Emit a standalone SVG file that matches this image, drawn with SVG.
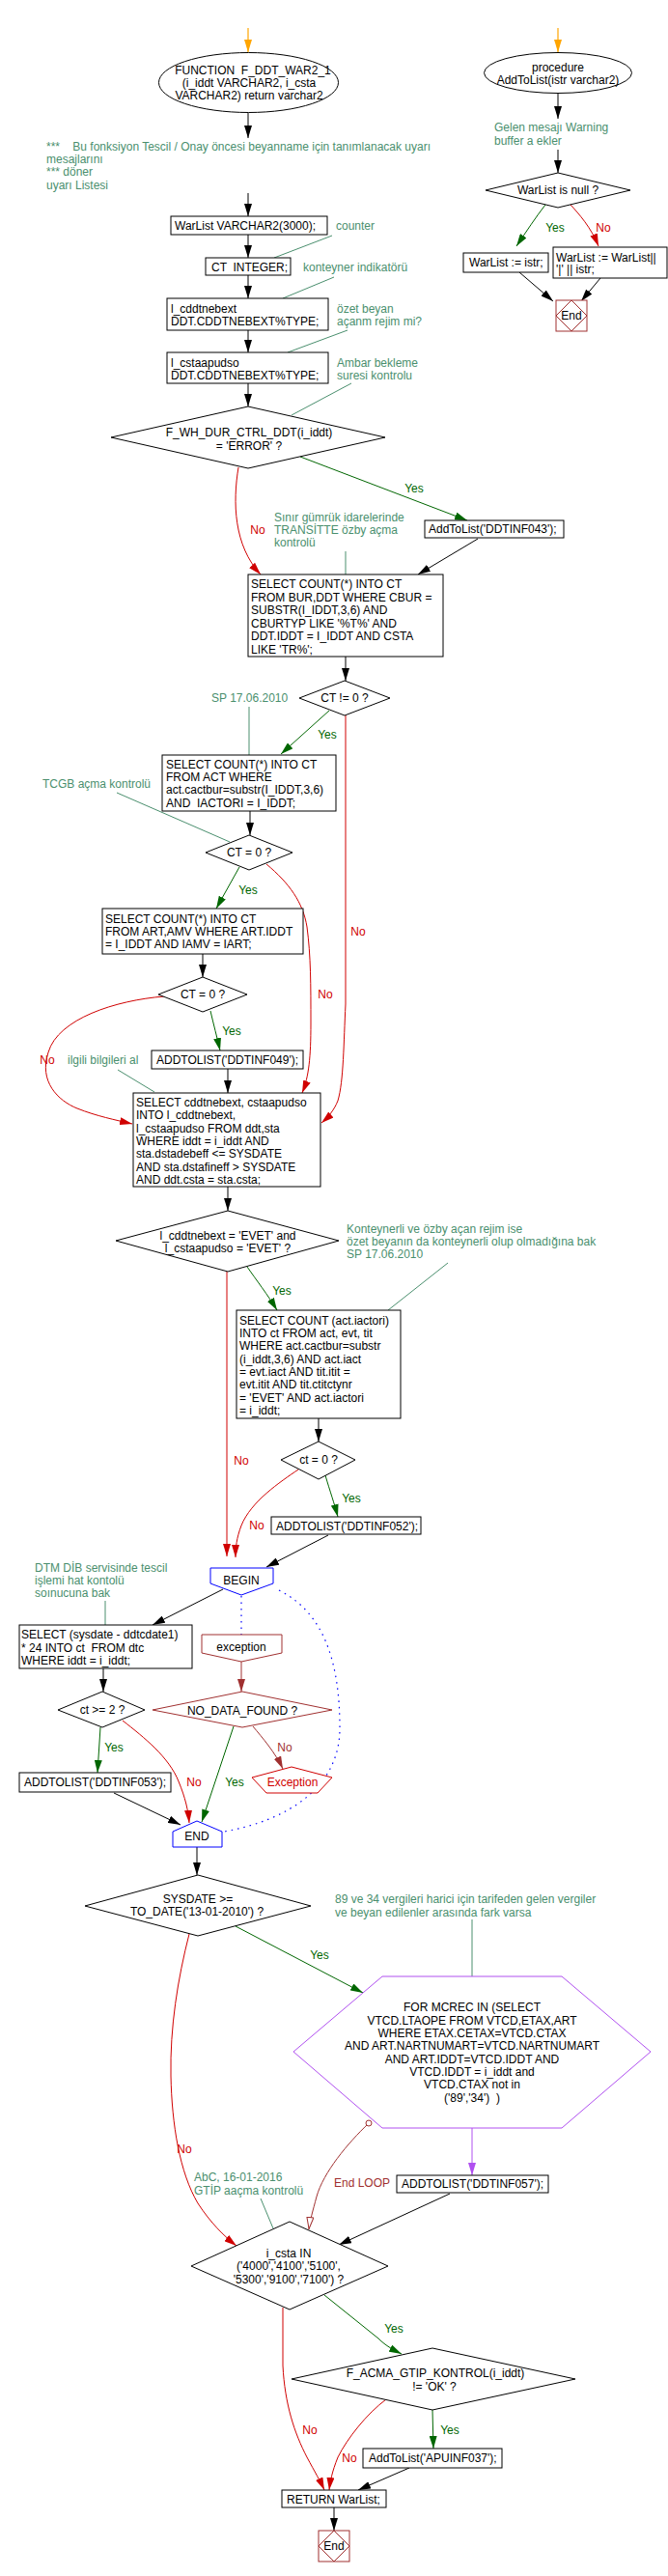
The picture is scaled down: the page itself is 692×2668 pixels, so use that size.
<svg xmlns="http://www.w3.org/2000/svg" width="692" height="2668" viewBox="0 0 692 2668">
<style>
text{font-family:"Liberation Sans",Arial,sans-serif;font-size:12px;fill:#000}
.c{fill:#4A8F6E}
.y{fill:#006600}
.n{fill:#D00000}
.dr{fill:#A03030}
.m{text-anchor:middle}
.pre{white-space:pre}
.box{fill:#fff;stroke:#000;stroke-width:1}
.dia{fill:#fff;stroke:#000;stroke-width:1}
.ln{fill:none;stroke:#000;stroke-width:1}
.lg{fill:none;stroke:#006600;stroke-width:1}
.lr{fill:none;stroke:#D00000;stroke-width:1}
.ldr{fill:none;stroke:#A03030;stroke-width:1}
.lc{fill:none;stroke:#4A8F6E;stroke-width:1}
.lb{fill:none;stroke:#0000FF;stroke-width:1.2;stroke-dasharray:1.5 5}
</style>
<defs>
<marker id="ak" viewBox="0 0 13 8" refX="13" refY="4" markerWidth="13" markerHeight="8" markerUnits="userSpaceOnUse" orient="auto"><path d="M0,0 L13,4 L0,8 z" fill="#000"/></marker>
<marker id="ag" viewBox="0 0 13 8" refX="13" refY="4" markerWidth="13" markerHeight="8" markerUnits="userSpaceOnUse" orient="auto"><path d="M0,0 L13,4 L0,8 z" fill="#006600"/></marker>
<marker id="ar" viewBox="0 0 13 8" refX="13" refY="4" markerWidth="13" markerHeight="8" markerUnits="userSpaceOnUse" orient="auto"><path d="M0,0 L13,4 L0,8 z" fill="#D00000"/></marker>
<marker id="adr" viewBox="0 0 13 8" refX="13" refY="4" markerWidth="13" markerHeight="8" markerUnits="userSpaceOnUse" orient="auto"><path d="M0,0 L13,4 L0,8 z" fill="#A03030"/></marker>
<marker id="ao" viewBox="0 0 13 8" refX="13" refY="4" markerWidth="13" markerHeight="8" markerUnits="userSpaceOnUse" orient="auto"><path d="M0,0 L13,4 L0,8 z" fill="#FFA500"/></marker>
<marker id="ap" viewBox="0 0 13 8" refX="13" refY="4" markerWidth="13" markerHeight="8" markerUnits="userSpaceOnUse" orient="auto"><path d="M0,0 L13,4 L0,8 z" fill="#B050F0"/></marker>
<marker id="aopen" viewBox="0 0 13 8" refX="13" refY="4" markerWidth="13" markerHeight="8" markerUnits="userSpaceOnUse" orient="auto"><path d="M0.5,0.5 L12.5,4 L0.5,7.5 z" fill="#fff" stroke="#A03030" stroke-width="1"/></marker>
<marker id="acirc" viewBox="0 0 8 8" refX="4" refY="4" markerWidth="8" markerHeight="8" markerUnits="userSpaceOnUse"><circle cx="4" cy="4" r="3" fill="#fff" stroke="#A03030" stroke-width="1"/></marker>
</defs>
<rect width="692" height="2668" fill="#fff"/>

<g id="connectors">
<line x1="257" y1="29" x2="257" y2="54" stroke="#FFA500" stroke-width="1.2" marker-end="url(#ao)"/>
<line x1="578" y1="29" x2="578" y2="54" stroke="#FFA500" stroke-width="1.2" marker-end="url(#ao)"/>
<path class="ln" d="M257,117 L257,143" marker-end="url(#ak)"/>
<path class="ln" d="M257,200 L257,224" marker-end="url(#ak)"/>
<path class="ln" d="M257,243 L257,267" marker-end="url(#ak)"/>
<path class="ln" d="M257,285 L257,309" marker-end="url(#ak)"/>
<path class="ln" d="M257,342 L257,365" marker-end="url(#ak)"/>
<path class="ln" d="M257,397 L257,421" marker-end="url(#ak)"/>
<path class="lc" d="M284,267 L344,244"/>
<path class="lc" d="M293,309 L346,287"/>
<path class="lc" d="M298,365 L360,342"/>
<path class="lc" d="M302,430 L364,397"/>
<path class="lg" d="M311,473 L484,539" marker-end="url(#ag)"/>
<path class="ln" d="M495,558 L433,595" marker-end="url(#ak)"/>
<path class="lr" d="M247,484 C241,520 242,565 270,595" marker-end="url(#ar)"/>
<path class="lc" d="M358,571 L358,595"/>
<path class="ln" d="M358,680 L358,705" marker-end="url(#ak)"/>
<path class="lc" d="M258,732 L258,782"/>
<path class="lg" d="M341,736 L291,781" marker-end="url(#ag)"/>
<path class="lr" d="M358,741 L358,1040 C356,1080 356,1120 350,1140 C346,1150 340,1157 333,1163" marker-end="url(#ar)"/>
<path class="lc" d="M121,821 L238,872"/>
<path class="ln" d="M259,840 L259,865" marker-end="url(#ak)"/>
<path class="lg" d="M248,898 L224,941" marker-end="url(#ag)"/>
<path class="lr" d="M276,895 C300,915 314,935 318,960 C322,990 322,1020 322,1060 C322,1095 320,1115 313,1132" marker-end="url(#ar)"/>
<path class="ln" d="M210,988 L210,1012" marker-end="url(#ak)"/>
<path class="lg" d="M218,1047 C221,1060 225,1075 228,1088" marker-end="url(#ag)"/>
<path class="lr" d="M170,1032 C120,1036 60,1055 50,1090 C40,1120 60,1140 80,1148 C100,1156 120,1160 137,1164" marker-end="url(#ar)"/>
<path class="lc" d="M122,1108 L160,1131"/>
<path class="ln" d="M236,1107 L236,1132" marker-end="url(#ak)"/>
<path class="ln" d="M236,1229 L236,1254" marker-end="url(#ak)"/>
<path class="lc" d="M464,1308 L402,1357"/>
<path class="lg" d="M256,1312 C265,1325 278,1342 287,1357" marker-end="url(#ag)"/>
<path class="lr" d="M235,1317 L235,1612" marker-end="url(#ar)"/>
<path class="ln" d="M330,1469 L330,1493" marker-end="url(#ak)"/>
<path class="lr" d="M309,1522 C290,1535 260,1555 250,1580 C245,1593 244,1603 244,1613" marker-end="url(#ar)"/>
<path class="lg" d="M337,1528 C342,1545 346,1556 350,1571" marker-end="url(#ag)"/>
<path class="ln" d="M340,1590 L276,1623" marker-end="url(#ak)"/>
<path class="lc" d="M109,1658 L109,1683"/>
<path class="ln" d="M231,1646 L158,1683" marker-end="url(#ak)"/>
<path class="ln" d="M107,1728 L107,1752" marker-end="url(#ak)"/>
<path class="lb" d="M250,1653 L250,1693"/>
<path class="ldr" d="M250,1721 L250,1752" marker-end="url(#adr)"/>
<path class="lb" d="M289,1647 C335,1670 352,1720 352,1790 C352,1850 300,1885 232,1897"/>
<path class="lg" d="M104,1789 L101,1836" marker-end="url(#ag)"/>
<path class="ln" d="M118,1857 L187,1890" marker-end="url(#ak)"/>
<path class="lr" d="M127,1782 C150,1800 175,1820 185,1845 C192,1862 195,1875 196,1888" marker-end="url(#ar)"/>
<path class="lg" d="M242,1788 L209,1887" marker-end="url(#ag)"/>
<path class="ldr" d="M262,1788 C272,1800 285,1815 293,1832" marker-end="url(#adr)"/>
<path class="ln" d="M204,1913 L204,1942" marker-end="url(#ak)"/>
<path class="lc" d="M489,1988 L489,2047"/>
<path class="lg" d="M244,1995 L376,2064" marker-end="url(#ag)"/>
<path class="lr" d="M196,2003 C184,2050 176,2100 177,2150 C178,2200 186,2250 205,2282 C218,2302 232,2316 245,2326" marker-end="url(#ar)"/>
<path d="M489,2204 L489,2253" fill="none" stroke="#B050F0" stroke-width="1" marker-end="url(#ap)"/>
<path class="ln" d="M466,2272 L351,2325" marker-end="url(#ak)"/>
<path class="ldr" d="M382,2199 C360,2220 335,2250 328,2275 C324,2290 321,2300 320,2309" marker-start="url(#acirc)" marker-end="url(#aopen)"/>
<path class="lc" d="M270,2277 L283,2308"/>
<path class="lg" d="M336,2377 L392,2422 C400,2430 408,2434 416,2438" marker-end="url(#ag)"/>
<path class="lg" d="M448,2496 L449,2536" marker-end="url(#ag)"/>
<path class="ln" d="M424,2556 L371,2579" marker-end="url(#ak)"/>
<path class="lr" d="M293,2390 L293,2450 C295,2490 305,2520 318,2545 C326,2560 332,2570 336,2579" marker-end="url(#ar)"/>
<path class="lr" d="M400,2485 C380,2500 360,2525 350,2545 C344,2560 342,2570 341,2579" marker-end="url(#ar)"/>
<path class="ln" d="M346,2597 L346,2621" marker-end="url(#ak)"/>
<path class="ln" d="M578,97 L578,123" marker-end="url(#ak)"/>
<path class="ln" d="M578,155 L578,179" marker-end="url(#ak)"/>
<path class="lg" d="M565,212 C555,225 545,240 535,255" marker-end="url(#ag)"/>
<path class="lr" d="M591,212 C600,222 612,235 620,255" marker-end="url(#ar)"/>
<path class="ln" d="M538,282 L573,312" marker-end="url(#ak)"/>
<path class="ln" d="M622,288 L602,312" marker-end="url(#ak)"/>
</g>

<g id="labels">
<text class="y m" x="429" y="510">Yes</text>
<text class="n m" x="267" y="553">No</text>
<text class="y m" x="339" y="765">Yes</text>
<text class="n m" x="371" y="969">No</text>
<text class="y m" x="257" y="926">Yes</text>
<text class="n m" x="337" y="1034">No</text>
<text class="y m" x="240" y="1072">Yes</text>
<text class="n m" x="49" y="1102">No</text>
<text class="y m" x="292" y="1341">Yes</text>
<text class="n m" x="250" y="1517">No</text>
<text class="n m" x="266" y="1584">No</text>
<text class="y m" x="364" y="1556">Yes</text>
<text class="y m" x="118" y="1814">Yes</text>
<text class="n m" x="201" y="1850">No</text>
<text class="y m" x="243" y="1850">Yes</text>
<text class="dr m" x="295" y="1814">No</text>
<text class="y m" x="331" y="2029">Yes</text>
<text class="n m" x="191" y="2230">No</text>
<text class="dr" x="346" y="2265">End LOOP</text>
<text class="y m" x="408" y="2416">Yes</text>
<text class="y m" x="466" y="2521">Yes</text>
<text class="n m" x="321" y="2521">No</text>
<text class="n m" x="362" y="2550">No</text>
<text class="y m" x="575" y="240">Yes</text>
<text class="n m" x="625" y="240">No</text>
</g>

<g id="n_func">
<ellipse cx="257.5" cy="85.5" rx="93" ry="31" fill="#fff" stroke="#000"/>
<text class="m pre" x="262" y="77">FUNCTION  F_DDT_WAR2_1</text>
<text class="m" x="258" y="90">(i_iddt VARCHAR2, i_csta</text>
<text class="m" x="258" y="103">VARCHAR2) return varchar2</text>
</g>
<g id="c_header">
<text class="c pre" x="48" y="156">***    Bu fonksiyon Tescil / Onay öncesi beyanname için tanımlanacak uyarı</text>
<text class="c" x="48" y="169">mesajlarını</text>
<text class="c" x="48" y="182">*** döner</text>
<text class="c" x="48" y="196">uyarı Listesi</text>
</g>
<g id="n_warlist_decl">
<rect class="box" x="177" y="224" width="162" height="19"/>
<text x="181" y="238">WarList VARCHAR2(3000);</text>
</g>
<g id="c_counter"><text class="c" x="348" y="238">counter</text></g>
<g id="n_ct">
<rect class="box" x="213" y="267" width="88" height="18"/>
<text class="pre" x="219" y="281">CT  INTEGER;</text>
</g>
<g id="c_konteyner"><text class="c" x="314" y="281">konteyner indikatörü</text></g>
<g id="n_cddt">
<rect class="box" x="173" y="309" width="167" height="33"/>
<text x="177" y="324">l_cddtnebext</text>
<text x="177" y="337">DDT.CDDTNEBEXT%TYPE;</text>
</g>
<g id="c_ozet">
<text class="c" x="349" y="324">özet beyan</text>
<text class="c" x="349" y="337">açanm rejim mi?</text>
</g>
<g id="n_csta">
<rect class="box" x="173" y="365" width="167" height="32"/>
<text x="177" y="380">l_cstaapudso</text>
<text x="177" y="393">DDT.CDDTNEBEXT%TYPE;</text>
</g>
<g id="c_ambar">
<text class="c" x="349" y="380">Ambar bekleme</text>
<text class="c" x="349" y="393">suresi kontrolu</text>
</g>
<g id="d_wh">
<polygon class="dia" points="257,421 399,453 257,485 115,453"/>
<text class="m" x="258" y="452">F_WH_DUR_CTRL_DDT(i_iddt)</text>
<text class="m" x="258" y="466">= 'ERROR' ?</text>
</g>
<g id="n_add043">
<rect class="box" x="440" y="539" width="144" height="18"/>
<text x="444" y="552">AddToList('DDTINF043');</text>
</g>
<g id="c_sinir">
<text class="c" x="284" y="540">Sınır gümrük idarelerinde</text>
<text class="c" x="284" y="553">TRANSİTTE özby açma</text>
<text class="c" x="284" y="566">kontrolü</text>
</g>
<g id="n_sel_bur">
<rect class="box" x="257" y="595" width="202" height="85"/>
<text x="260" y="609">SELECT COUNT(*) INTO CT</text>
<text x="260" y="622.5">FROM BUR,DDT WHERE CBUR =</text>
<text x="260" y="636">SUBSTR(I_IDDT,3,6) AND</text>
<text x="260" y="649.5">CBURTYP LIKE '%T%' AND</text>
<text x="260" y="663">DDT.IDDT = I_IDDT AND CSTA</text>
<text x="260" y="676.5">LIKE 'TR%';</text>
</g>
<g id="d_ct_ne">
<polygon class="dia" points="357,705 404,723 357,741 310,723"/>
<text class="m" x="357" y="727">CT != 0 ?</text>
</g>
<g id="c_sp1"><text class="c" x="219" y="727">SP 17.06.2010</text></g>
<g id="n_sel_act">
<rect class="box" x="168" y="782" width="180" height="58"/>
<text x="172" y="796">SELECT COUNT(*) INTO CT</text>
<text x="172" y="809">FROM ACT WHERE</text>
<text x="172" y="822">act.cactbur=substr(I_IDDT,3,6)</text>
<text class="pre" x="172" y="836">AND  IACTORI = I_IDDT;</text>
</g>
<g id="c_tcgb"><text class="c" x="44" y="816">TCGB açma kontrolü</text></g>
<g id="d_ct0a">
<polygon class="dia" points="258,865 303,883 258,901 213,883"/>
<text class="m" x="258" y="887">CT = 0 ?</text>
</g>
<g id="n_sel_art">
<rect class="box" x="106" y="941" width="208" height="47"/>
<text x="109" y="956">SELECT COUNT(*) INTO CT</text>
<text x="109" y="969">FROM ART,AMV WHERE ART.IDDT</text>
<text x="109" y="982">= I_IDDT AND IAMV = IART;</text>
</g>
<g id="d_ct0b">
<polygon class="dia" points="210,1012 256,1030 210,1048 164,1030"/>
<text class="m" x="210" y="1034">CT = 0 ?</text>
</g>
<g id="n_add049">
<rect class="box" x="157" y="1088" width="157" height="19"/>
<text x="162" y="1102">ADDTOLIST('DDTINF049');</text>
</g>
<g id="c_ilgili"><text class="c" x="70" y="1102">ilgili bilgileri al</text></g>
<g id="n_sel_ddt">
<rect class="box" x="138" y="1132" width="194" height="97"/>
<text x="141" y="1146">SELECT cddtnebext, cstaapudso</text>
<text x="141" y="1159.3">INTO l_cddtnebext,</text>
<text x="141" y="1172.6">l_cstaapudso FROM ddt,sta</text>
<text x="141" y="1185.9">WHERE iddt = i_iddt AND</text>
<text x="141" y="1199.2">sta.dstadebeff &lt;= SYSDATE</text>
<text x="141" y="1212.5">AND sta.dstafineff &gt; SYSDATE</text>
<text x="141" y="1225.8">AND ddt.csta = sta.csta;</text>
</g>
<g id="d_evet">
<polygon class="dia" points="236,1254 351,1285 236,1317 120,1285"/>
<text class="m" x="236" y="1284">l_cddtnebext = 'EVET' and</text>
<text class="m" x="236" y="1297">l_cstaapudso = 'EVET' ?</text>
</g>
<g id="c_konteynerli">
<text class="c" x="359" y="1277">Konteynerli ve özby açan rejim ise</text>
<text class="c" x="359" y="1290">özet beyanın da konteynerli olup olmadığına bak</text>
<text class="c" x="359" y="1303">SP 17.06.2010</text>
</g>
<g id="n_sel_evt">
<rect class="box" x="245" y="1357" width="170" height="112"/>
<text x="248" y="1372">SELECT COUNT (act.iactori)</text>
<text x="248" y="1385">INTO ct FROM act, evt, tit</text>
<text x="248" y="1398">WHERE act.cactbur=substr</text>
<text x="248" y="1412">(i_iddt,3,6) AND act.iact</text>
<text x="248" y="1425">= evt.iact AND tit.itit =</text>
<text x="248" y="1438">evt.itit AND tit.ctitctynr</text>
<text x="248" y="1452">= 'EVET' AND act.iactori</text>
<text x="248" y="1465">= i_iddt;</text>
</g>
<g id="d_ct0c">
<polygon class="dia" points="330,1493 368,1512 330,1532 291,1512"/>
<text class="m" x="330" y="1516">ct = 0 ?</text>
</g>
<g id="n_add052">
<rect class="box" x="281" y="1571" width="155" height="18"/>
<text x="286" y="1585">ADDTOLIST('DDTINF052');</text>
</g>
<g id="n_begin">
<polygon points="218,1624 283,1624 283,1640 250,1652 218,1640" fill="#fff" stroke="#0000FF" stroke-width="1"/>
<text class="m" x="250" y="1641">BEGIN</text>
</g>
<g id="c_dtm">
<text class="c" x="36" y="1628">DTM DİB servisinde tescil</text>
<text class="c" x="36" y="1641">işlemi hat kontolü</text>
<text class="c" x="36" y="1654">soınucuna bak</text>
</g>
<g id="n_sel_dtc">
<rect class="box" x="20" y="1683" width="179" height="45"/>
<text x="22" y="1697">SELECT (sysdate - ddtcdate1)</text>
<text class="pre" x="22" y="1711">* 24 INTO ct  FROM dtc</text>
<text x="22" y="1724">WHERE iddt = i_iddt;</text>
</g>
<g id="d_ct2">
<polygon class="dia" points="106,1752 150,1771 106,1789 60,1771"/>
<text class="m" x="106" y="1775">ct &gt;= 2 ?</text>
</g>
<g id="n_exception">
<polygon points="209,1693 292,1693 292,1712 250,1721 209,1712" fill="#fff" stroke="#A03030" stroke-width="1"/>
<text class="m" x="250" y="1710">exception</text>
</g>
<g id="d_ndf">
<polygon points="251,1752 344,1771 251,1789 158,1771" fill="#fff" stroke="#A03030" stroke-width="1"/>
<text class="m" x="251" y="1776">NO_DATA_FOUND ?</text>
</g>
<g id="n_add053">
<rect class="box" x="20" y="1836" width="157" height="20"/>
<text x="25" y="1850">ADDTOLIST('DDTINF053');</text>
</g>
<g id="n_exc_raise">
<polygon points="261,1841 302,1830 344,1841 329,1857 276,1857" fill="#fff" stroke="#D00000" stroke-width="1"/>
<text class="n m" x="303" y="1850">Exception</text>
</g>
<g id="n_end_blk">
<polygon points="179,1897 204,1886 230,1897 230,1913 179,1913" fill="#fff" stroke="#0000FF" stroke-width="1"/>
<text class="m" x="204" y="1906">END</text>
</g>
<g id="d_sysdate">
<polygon class="dia" points="205,1942 322,1974 205,2005 88,1974"/>
<text class="m" x="205" y="1971">SYSDATE &gt;=</text>
<text class="m" x="204" y="1984">TO_DATE('13-01-2010') ?</text>
</g>
<g id="c_89">
<text class="c" x="347" y="1971">89 ve 34 vergileri harici için tarifeden gelen vergiler</text>
<text class="c" x="347" y="1985">ve beyan edilenler arasında fark varsa</text>
</g>
<g id="n_loop">
<polygon points="304,2125 396,2047 582,2047 674,2125 582,2204 396,2204" fill="#fff" stroke="#B050F0" stroke-width="1"/>
<text class="m" x="489" y="2083">FOR MCREC IN (SELECT</text>
<text class="m" x="489" y="2097">VTCD.LTAOPE FROM VTCD,ETAX,ART</text>
<text class="m" x="489" y="2110">WHERE ETAX.CETAX=VTCD.CTAX</text>
<text class="m" x="489" y="2123">AND ART.NARTNUMART=VTCD.NARTNUMART</text>
<text class="m" x="489" y="2137">AND ART.IDDT=VTCD.IDDT AND</text>
<text class="m" x="489" y="2150">VTCD.IDDT = i_iddt and</text>
<text class="m" x="489" y="2163">VTCD.CTAX not in</text>
<text class="m pre" x="489" y="2177">('89','34')  )</text>
</g>
<g id="n_add057">
<rect class="box" x="411" y="2253" width="157" height="18"/>
<text x="416" y="2266">ADDTOLIST('DDTINF057');</text>
</g>
<g id="c_abc">
<text class="c" x="201" y="2259">AbC, 16-01-2016</text>
<text class="c" x="201" y="2273">GTİP aaçma kontrolü</text>
</g>
<g id="d_icsta">
<polygon class="dia" points="300,2301 402,2347 300,2392 198,2347"/>
<text class="m" x="299" y="2338">i_csta IN</text>
<text class="m" x="299" y="2351">('4000','4100','5100',</text>
<text class="m" x="299" y="2365">'5300','9100','7100') ?</text>
</g>
<g id="d_gtip">
<polygon class="dia" points="448,2432 596,2464 448,2496 302,2464"/>
<text class="m" x="451" y="2462">F_ACMA_GTIP_KONTROL(i_iddt)</text>
<text class="m" x="450" y="2476">!= 'OK' ?</text>
</g>
<g id="n_add037">
<rect class="box" x="376" y="2536" width="144" height="20"/>
<text x="382" y="2550">AddToList('APUINF037');</text>
</g>
<g id="n_return">
<rect class="box" x="292" y="2579" width="108" height="18"/>
<text x="297" y="2593">RETURN WarList;</text>
</g>
<g id="n_end_main">
<rect x="330" y="2621" width="32" height="32" fill="#fff" stroke="#A03030" stroke-width="1"/>
<polygon points="346,2621 362,2637 346,2653 330,2637" fill="none" stroke="#A03030" stroke-width="1"/>
<text class="m" x="346" y="2641">End</text>
</g>

<g id="n_proc">
<ellipse cx="578" cy="75.5" rx="76.5" ry="21" fill="#fff" stroke="#000"/>
<text class="m" x="578" y="74">procedure</text>
<text class="m" x="578" y="87">AddToList(istr varchar2)</text>
</g>
<g id="c_gelen">
<text class="c" x="512" y="136">Gelen mesajı Warning</text>
<text class="c" x="512" y="150">buffer a ekler</text>
</g>
<g id="d_null">
<polygon class="dia" points="578,179 653,197 578,215 503,197"/>
<text class="m" x="578" y="201">WarList is null ?</text>
</g>
<g id="n_set1">
<rect class="box" x="480" y="262" width="88" height="20"/>
<text x="486" y="276">WarList := istr;</text>
</g>
<g id="n_set2">
<rect class="box" x="573" y="256" width="118" height="32"/>
<text x="576" y="271">WarList := WarList||</text>
<text x="576" y="283">'|' || istr;</text>
</g>
<g id="n_end_proc">
<rect x="576" y="311" width="32" height="32" fill="#fff" stroke="#A03030" stroke-width="1"/>
<polygon points="592,311 608,327 592,343 576,327" fill="none" stroke="#A03030" stroke-width="1"/>
<text class="m" x="592" y="331">End</text>
</g>
</svg>
